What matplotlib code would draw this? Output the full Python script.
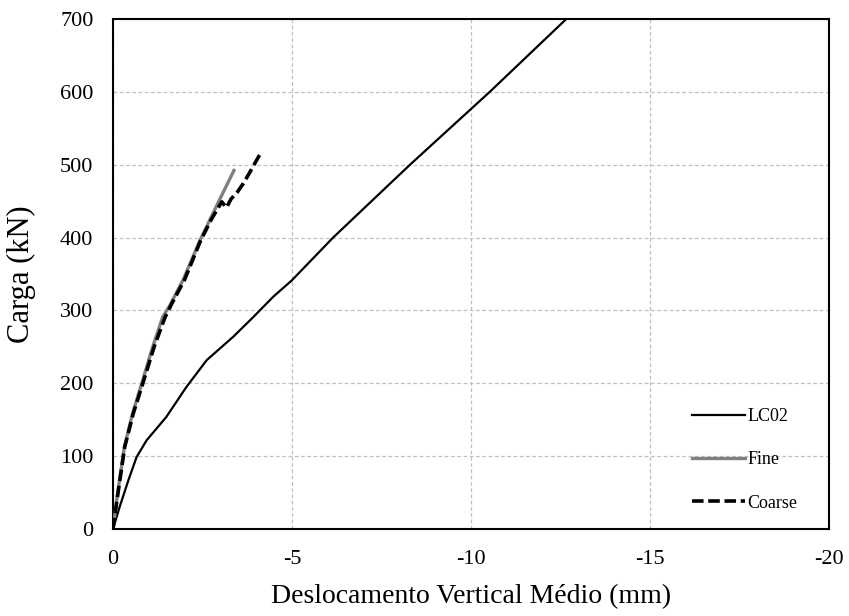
import matplotlib
matplotlib.use('Agg')
import matplotlib.pyplot as plt

# curves (displacement in mm, load in kN)
lc02_x = [0, -0.19, -0.43, -0.66, -0.94, -1.49, -2.05, -2.62, -3.36, -3.92,
          -4.48, -4.99, -6.15, -8.3, -10.53, -12.67]
lc02_y = [0, 31, 67, 99, 122, 154, 195, 232, 264, 291,
          319, 341, 400, 500, 600, 700]

fine_x = [0, -0.13, -0.32, -0.55, -0.83, -1.11, -1.39, -1.59, -1.96, -2.43, -2.99, -3.38]
fine_y = [0, 49, 113, 159, 204, 250, 291, 307, 342, 396, 453, 492]

coarse_x = [0, -0.14, -0.33, -0.57, -0.86, -1.15, -1.45, -1.65, -2.0, -2.45,
            -2.75, -3.04, -3.17, -3.3, -3.47, -3.64, -3.83, -4.15]
coarse_y = [0, 49, 113, 159, 204, 250, 290, 310, 342, 396,
            425, 449, 441, 453, 462, 474, 490, 518]

x_ticks = [0, -5, -10, -15, -20]
y_ticks = [0, 100, 200, 300, 400, 500, 600, 700]

plt.rcParams['font.family'] = ['Liberation Serif', 'DejaVu Serif']
plt.rcParams['axes.unicode_minus'] = False

fig = plt.figure(figsize=(8.49, 6.16), dpi=100)
ax = fig.add_axes([0.133, 0.1407, 0.8435, 0.8289])

ax.plot(lc02_x, lc02_y, color='black', lw=1.6, label='LC02', zorder=3)
ax.plot(fine_x, fine_y, color='#808080', lw=2.4, label='Fine', zorder=4)
ax.plot(coarse_x, coarse_y, color='black', lw=2.6, linestyle=(0, (3.2, 1.3)),
        label='Coarse', zorder=5)

ax.set_xlim(0, -20)
ax.set_ylim(0, 700)
ax.set_xticks(x_ticks)
ax.set_xticklabels([str(v) for v in x_ticks])
ax.set_yticks(y_ticks)

ax.grid(True, color='#c0c0c0', linestyle=(0, (3, 2)), lw=0.9)
ax.set_axisbelow(True)
for s in ax.spines.values():
    s.set_linewidth(1.5)
    s.set_color('black')

ax.tick_params(axis='both', length=0, labelsize=16)
ax.tick_params(axis='x', pad=15)
ax.tick_params(axis='y', pad=14)

ax.set_xlabel('Deslocamento Vertical Médio (mm)', fontsize=20, labelpad=11)
ax.set_ylabel('Carga (kN)', fontsize=22, labelpad=17)

ax.legend(loc='center left', bbox_to_anchor=(0.809, 0.136), frameon=False,
          fontsize=13, handlelength=2.9, handletextpad=0.15,
          labelspacing=1.45, borderpad=0, borderaxespad=0)

fig.savefig('out.png', dpi=100)
